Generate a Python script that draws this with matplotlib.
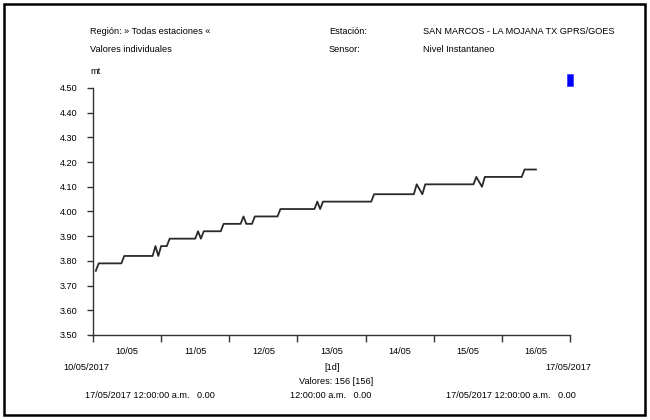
import matplotlib
matplotlib.use("Agg")
import matplotlib.pyplot as plt
from matplotlib.patches import Rectangle

# ---- data ----
hours = list(range(1, 157))  # hourly readings from 10/05/2017 01:00
values = [
    3.76,
    3.79, 3.79, 3.79, 3.79, 3.79, 3.79, 3.79, 3.79, 3.79,
    3.82, 3.82, 3.82, 3.82, 3.82, 3.82, 3.82, 3.82, 3.82, 3.82, 3.82,
    3.86, 3.82, 3.86, 3.86, 3.86,
    3.89, 3.89, 3.89, 3.89, 3.89, 3.89, 3.89, 3.89, 3.89, 3.89,
    3.92, 3.89,
    3.92, 3.92, 3.92, 3.92, 3.92, 3.92, 3.92,
    3.95, 3.95, 3.95, 3.95, 3.95, 3.95, 3.95,
    3.98, 3.95, 3.95, 3.95,
    3.98, 3.98, 3.98, 3.98, 3.98, 3.98, 3.98, 3.98, 3.98,
    4.01, 4.01, 4.01, 4.01, 4.01, 4.01, 4.01, 4.01, 4.01, 4.01, 4.01, 4.01, 4.01,
    4.04, 4.01,
    4.04, 4.04, 4.04, 4.04, 4.04, 4.04, 4.04, 4.04, 4.04,
    4.04, 4.04, 4.04, 4.04, 4.04, 4.04, 4.04, 4.04, 4.04,
    4.07, 4.07, 4.07, 4.07, 4.07, 4.07, 4.07, 4.07, 4.07, 4.07, 4.07, 4.07, 4.07, 4.07, 4.07,
    4.11, 4.09, 4.07,
    4.11, 4.11, 4.11, 4.11, 4.11, 4.11, 4.11, 4.11, 4.11,
    4.11, 4.11, 4.11, 4.11, 4.11, 4.11, 4.11, 4.11, 4.11,
    4.14, 4.12, 4.10,
    4.14, 4.14, 4.14, 4.14, 4.14, 4.14, 4.14, 4.14, 4.14, 4.14, 4.14, 4.14, 4.14, 4.14,
    4.17, 4.17, 4.17, 4.17, 4.17,
]
day_labels = ["10/05", "11/05", "12/05", "13/05", "14/05", "15/05", "16/05"]
y_ticks = [3.50, 3.60, 3.70, 3.80, 3.90, 4.00, 4.10, 4.20, 4.30, 4.40, 4.50]

plt.rcParams['font.family'] = ["Liberation Sans", "DejaVu Sans"]
FS = 6.6

W, H = 650, 420
fig = plt.figure(figsize=(6.5, 4.2), dpi=100)
fig.patch.set_facecolor("white")

def fx(x):
    return x / W

def fy(y):
    return 1 - y / H

ax = fig.add_axes([fx(93), fy(335), (570 - 93) / W, (335 - 88) / H])
ax.plot(hours, values, color="#2a2a2a", lw=1.3)
ax.set_xlim(0, 168)
ax.set_ylim(3.5, 4.5)
for s in ("top", "right"):
    ax.spines[s].set_visible(False)
for s in ("left", "bottom"):
    ax.spines[s].set_color("#333333")
    ax.spines[s].set_linewidth(1.0)

ax.set_yticks(y_ticks)
ax.set_yticklabels([f"{v:.2f}" for v in y_ticks], fontsize=FS)
ax.tick_params(axis="y", direction="out", length=4, width=1, pad=7, colors="#333333", labelcolor="black")

ax.set_xticks([24 * i for i in range(8)])
ax.set_xticklabels([""] * 8)
ax.set_xticks([24 * i + 12 for i in range(7)], minor=True)
ax.set_xticklabels(day_labels, minor=True, fontsize=FS)
ax.tick_params(axis="x", which="major", direction="out", length=5, width=1, colors="#333333")
ax.tick_params(axis="x", which="minor", length=0, pad=9)

def t(x, y, s, ha="left"):
    fig.text(fx(x), fy(y), s, ha=ha, va="center", fontsize=FS)

t(90, 32, "Región: » Todas estaciones «")
t(90, 50, "Valores individuales")
t(329, 32, "Estación:")
t(329, 50, "Sensor:")
t(423, 32, "SAN MARCOS - LA MOJANA TX GPRS/GOES")
t(423, 50, "Nivel Instantaneo")
t(90, 72, "mt")
t(86, 367, "10/05/2017", ha="center")
t(568, 367, "17/05/2017", ha="center")
t(332, 367, "[1d]", ha="center")
t(336, 381, "Valores: 156 [156]", ha="center")
t(150, 396, "17/05/2017 12:00:00 a.m.   0.00", ha="center")
t(331, 396, "12:00:00 a.m.   0.00", ha="center")
t(511, 396, "17/05/2017 12:00:00 a.m.   0.00", ha="center")

fig.add_artist(Rectangle((fx(567), fy(86)), 6 / W, 12 / H, transform=fig.transFigure,
                         facecolor="#0000ff", edgecolor="#3333ff", lw=0.5))
fig.add_artist(Rectangle((fx(4), fy(415)), 641 / W, 411 / H, transform=fig.transFigure,
                         fill=False, edgecolor="black", lw=1.8))

fig.savefig("out.png", dpi=100)
